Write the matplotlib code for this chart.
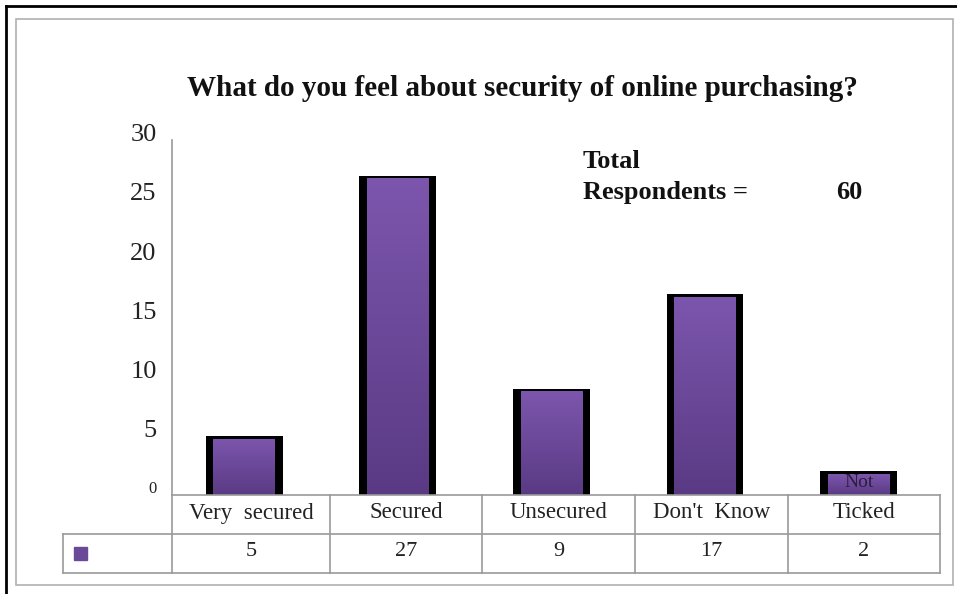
import numpy as np
import matplotlib
matplotlib.use("Agg")
import matplotlib.pyplot as plt
from matplotlib.colors import LinearSegmentedColormap
from matplotlib.patches import Rectangle
from matplotlib.lines import Line2D

plt.rcParams["font.family"] = ["Liberation Serif", "DejaVu Serif"]

# ---- data
categories = ["Very  secured", "Secured", "Unsecured", "Don't  Know", "Ticked"]
counts = [5, 27, 9, 17, 2]
yticks = [0, 5, 10, 15, 20, 25, 30]
total = 60

W, H = 957, 594
fig = plt.figure(figsize=(W / 100, H / 100), dpi=100)


def fx(px):
    return px / W


def fy(py):
    return 1 - py / H


# outer frames
fig.add_artist(Line2D([fx(6), fx(6)], [fy(6), 0], color="black", lw=2))
fig.add_artist(Line2D([fx(6), 1], [fy(6), fy(6)], color="black", lw=2))
fig.add_artist(Rectangle((fx(16), fy(585)), fx(953) - fx(16), fy(19) - fy(585),
                         transform=fig.transFigure, fill=False,
                         edgecolor="#b0b0b0", lw=1.2))

# plot area
ax = fig.add_axes([fx(172), fy(495), fx(940) - fx(172), fy(140) - fy(495)])
ax.set_xlim(-0.5, len(categories) - 0.5)
ax.set_ylim(0, 30)
for s in ("top", "right", "bottom"):
    ax.spines[s].set_visible(False)
ax.spines["left"].set_color("#999999")
ax.spines["left"].set_linewidth(1.2)
ax.set_xticks([])
ax.set_yticks(yticks)
ax.set_yticklabels([])
ax.tick_params(axis="y", length=0)
for t in yticks:
    ax.text(-0.6, t + (0.4 if t else 0.5), str(t), ha="right", va="center",
            fontsize=12 if t == 0 else 19, color="#222222",
            transform=ax.transData, clip_on=False)

x = np.arange(len(categories))
# black shell then gradient-filled inner bar
ax.bar(x - 0.03, counts, width=0.5, color="black", zorder=2)
inner = ax.bar(x - 0.03, np.array(counts) - 0.25, width=0.4, color="none", zorder=3)
cmap = LinearSegmentedColormap.from_list("purp", ["#5a3a84", "#7c56ad"])
grad = np.linspace(0, 1, 256).reshape(-1, 1)
for b in inner:
    bx, by = b.get_x(), b.get_y()
    im = ax.imshow(grad, cmap=cmap, origin="lower", aspect="auto",
                   extent=[bx, bx + b.get_width(), by, by + b.get_height()],
                   zorder=3)
    im.set_clip_path(b)
ax.set_xlim(-0.5, len(categories) - 0.5)
ax.set_ylim(0, 30)

# first half of the wrapped "Not Ticked" label sits on top of the short bar
ax.text(x[-1] - 0.03, counts[-1] - 0.95, "Not", ha="center", va="center",
        fontsize=14, color="#2a1f3a", zorder=4)

# ---- data table under the axis
tcol = "#9a9a9a"
cols = [172, 330, 482, 635, 788, 940]
row_y = [495, 534, 573]
for yy in row_y:
    x0 = 172 if yy == 495 else 63
    fig.add_artist(Line2D([fx(x0), fx(940)], [fy(yy), fy(yy)], color=tcol, lw=1.2))
for cx in cols:
    fig.add_artist(Line2D([fx(cx), fx(cx)], [fy(495), fy(573)], color=tcol, lw=1.2))
fig.add_artist(Line2D([fx(63), fx(63)], [fy(534), fy(573)], color=tcol, lw=1.2))

for i, (c, v) in enumerate(zip(categories, counts)):
    cx = (cols[i] + cols[i + 1]) / 2
    fig.text(fx(cx), fy(513), c, ha="center", va="center", fontsize=16.5, color="#222222")
    fig.text(fx(cx), fy(552), str(v), ha="center", va="center", fontsize=16, color="#222222")
fig.add_artist(Rectangle((fx(74), fy(560)), fx(13), 13 / H, transform=fig.transFigure,
                         color="#6a4a98"))

# ---- titles
fig.text(fx(522), fy(88), "What do you feel about security of online purchasing?",
         ha="center", va="center", fontsize=21, fontweight="bold", color="#111111")
fig.text(fx(583), fy(162), "Total", ha="left", va="center", fontsize=19,
         fontweight="bold", color="#111111")
fig.text(fx(583), fy(192), "Respondents =", ha="left", va="center", fontsize=19,
         fontweight="bold", color="#111111")
fig.text(fx(836), fy(192), str(total), ha="left", va="center", fontsize=19,
         fontweight="bold", color="#111111")

fig.savefig("out.png", dpi=100)
